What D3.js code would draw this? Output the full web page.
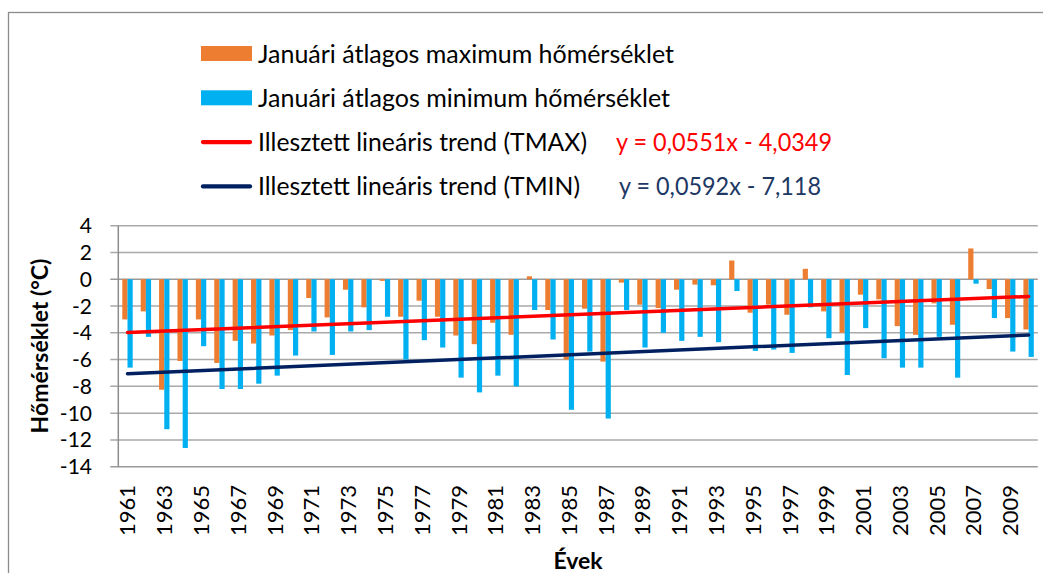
<!DOCTYPE html>
<html>
<head>
<meta charset="utf-8">
<script src="https://cdn.jsdelivr.net/npm/d3@7"></script>
<style>
  body { margin: 0; background: #fff; }
  text { font-family: Lato, "Open Sans", sans-serif; }
</style>
</head>
<body>
<script>
const years = [1961, 1962, 1963, 1964, 1965, 1966, 1967, 1968, 1969, 1970,
    1971, 1972, 1973, 1974, 1975, 1976, 1977, 1978, 1979, 1980,
    1981, 1982, 1983, 1984, 1985, 1986, 1987, 1988, 1989, 1990,
    1991, 1992, 1993, 1994, 1995, 1996, 1997, 1998, 1999, 2000,
    2001, 2002, 2003, 2004, 2005, 2006, 2007, 2008, 2009, 2010];

// January mean maximum / minimum temperature (°C)
const tmax = [-3.0, -2.4, -8.25, -6.1, -3.0, -6.25, -4.6, -4.8, -4.2, -3.8,
    -1.4, -2.85, -0.78, -2.1, -0.12, -2.8, -1.6, -2.8, -4.2, -4.85,
    -3.25, -4.15, 0.22, -2.3, -6.0, -2.2, -6.15, -0.25, -1.9, -2.15,
    -0.78, -0.4, -0.45, 1.4, -2.5, -1.9, -2.65, 0.78, -2.4, -4.0,
    -1.15, -1.5, -3.5, -4.15, -1.8, -3.4, 2.3, -0.73, -2.9, -3.75];
const tmin = [-6.6, -4.3, -11.2, -12.6, -5.0, -8.2, -8.2, -7.8, -7.2, -5.7,
    -3.9, -5.65, -3.9, -3.8, -2.8, -6.0, -4.55, -5.1, -7.35, -8.45,
    -7.2, -8.0, -2.3, -4.5, -9.75, -5.4, -10.4, -2.3, -5.1, -4.0,
    -4.6, -4.3, -4.7, -0.88, -5.35, -5.25, -5.5, -2.1, -4.4, -7.15,
    -3.65, -5.9, -6.6, -6.6, -4.3, -7.35, -0.33, -2.9, -5.4, -5.8];

// trend line end points (first and last year)
const trendMax = [{ year: 1961, v: -3.98 }, { year: 2010, v: -1.28 }];
const trendMin = [{ year: 1961, v: -7.06 }, { year: 2010, v: -4.16 }];

const yTicks = [4, 2, 0, -2, -4, -6, -8, -10, -12, -14];
const xLabels = years.filter((d, i) => i % 2 === 0);

const legendItems = [
    { label: "Januári átlagos maximum hőmérséklet", color: "#ED7D31", type: "box", w: 416 },
    { label: "Januári átlagos minimum hőmérséklet", color: "#00B0F0", type: "box", w: 412 },
    { label: "Illesztett lineáris trend (TMAX)", color: "#FF0000", type: "line", w: 329,
      eq: "y = 0,0551x - 4,0349", eqColor: "#FF0000", eqX: 616, eqW: 216 },
    { label: "Illesztett lineáris trend (TMIN)", color: "#002060", type: "line", w: 322,
      eq: "y = 0,0592x - 7,118", eqColor: "#203864", eqX: 619, eqW: 202 }
];

const W = 1043, H = 573;
const plot = { left: 118.3, right: 1037.8, top: 225.7, bottom: 466.7 };

const svg = d3.select("body").append("svg")
    .attr("width", W)
    .attr("height", H);

// outer chart border
svg.append("rect")
    .attr("x", 8.5).attr("y", 12.5)
    .attr("width", W + 20).attr("height", H + 20)
    .attr("fill", "none")
    .attr("stroke", "#8c8c8c")
    .attr("stroke-width", 1.3);

const x = d3.scaleBand()
    .domain(years)
    .range([plot.left, plot.right])
    .paddingInner(0.435)
    .paddingOuter(0.2175);

const xSub = d3.scaleBand()
    .domain(["max", "min"])
    .range([0, x.bandwidth()]);

const y = d3.scaleLinear()
    .domain([-14, 4])
    .range([plot.bottom, plot.top]);

// gridlines
svg.append("g")
    .selectAll("line")
    .data(yTicks)
    .enter()
    .append("line")
    .attr("x1", plot.left - 8)
    .attr("x2", plot.right)
    .attr("y1", d => y(d))
    .attr("y2", d => y(d))
    .attr("stroke", d => d === 0 || d === -14 ? "#9a9a9a" : "#a9a9a9")
    .attr("stroke-width", 1.5);

// y axis labels
svg.append("g")
    .selectAll("text")
    .data(yTicks)
    .enter()
    .append("text")
    .attr("x", 92)
    .attr("y", d => y(d) + 7.5)
    .attr("text-anchor", "end")
    .attr("font-size", 21)
    .attr("fill", "#000")
    .text(d => d);

// bars
const bars = svg.append("g");
bars.selectAll("rect.max")
    .data(years)
    .enter()
    .append("rect")
    .attr("class", "max")
    .attr("x", d => x(d) + xSub("max"))
    .attr("width", xSub.bandwidth())
    .attr("y", (d, i) => y(Math.max(0, tmax[i])))
    .attr("height", (d, i) => Math.abs(y(tmax[i]) - y(0)))
    .attr("fill", "#ED7D31");

bars.selectAll("rect.min")
    .data(years)
    .enter()
    .append("rect")
    .attr("class", "min")
    .attr("x", d => x(d) + xSub("min"))
    .attr("width", xSub.bandwidth())
    .attr("y", (d, i) => y(Math.max(0, tmin[i])))
    .attr("height", (d, i) => Math.abs(y(tmin[i]) - y(0)))
    .attr("fill", "#00B0F0");

// axis line
svg.append("line")
    .attr("x1", plot.left).attr("x2", plot.left)
    .attr("y1", plot.top).attr("y2", plot.bottom)
    .attr("stroke", "#8c8c8c")
    .attr("stroke-width", 1.5);

// trend lines
const line = d3.line()
    .x(d => x(d.year) + x.bandwidth() / 2)
    .y(d => y(d.v));

svg.append("path")
    .datum(trendMax)
    .attr("d", line)
    .attr("fill", "none")
    .attr("stroke", "#FF0000")
    .attr("stroke-width", 3.5)
    .attr("stroke-linecap", "round");

svg.append("path")
    .datum(trendMin)
    .attr("d", line)
    .attr("fill", "none")
    .attr("stroke", "#002060")
    .attr("stroke-width", 3.5)
    .attr("stroke-linecap", "round");

// x axis labels
svg.append("g")
    .selectAll("text")
    .data(xLabels)
    .enter()
    .append("text")
    .attr("transform", d => `translate(${x(d) + x.bandwidth() / 2 + 8},485) rotate(-90)`)
    .attr("text-anchor", "end")
    .attr("font-size", 22)
    .attr("fill", "#000")
    .text(d => d);

// axis titles
svg.append("text")
    .attr("transform", "translate(48,346) rotate(-90)")
    .attr("text-anchor", "middle")
    .attr("font-size", 23)
    .attr("font-weight", "bold")
    .text("Hőmérséklet (°C)");

svg.append("text")
    .attr("x", 578)
    .attr("y", 569)
    .attr("text-anchor", "middle")
    .attr("font-size", 23)
    .attr("font-weight", "bold")
    .text("Évek");

// legend
const legend = svg.append("g")
    .selectAll("g")
    .data(legendItems)
    .enter()
    .append("g")
    .attr("transform", (d, i) => `translate(0,${62.5 + i * 44.3})`);

legend.filter(d => d.type === "box")
    .append("rect")
    .attr("x", 201).attr("y", -16.5)
    .attr("width", 51).attr("height", 15)
    .attr("fill", d => d.color);

legend.filter(d => d.type === "line")
    .append("line")
    .attr("x1", 203).attr("x2", 250)
    .attr("y1", -9).attr("y2", -9)
    .attr("stroke", d => d.color)
    .attr("stroke-width", 4.3)
    .attr("stroke-linecap", "round");

legend.append("text")
    .attr("x", 258)
    .attr("font-size", 25)
    .attr("fill", "#000")
    .attr("textLength", d => d.w)
    .attr("lengthAdjust", "spacingAndGlyphs")
    .text(d => d.label);

legend.filter(d => d.eq)
    .append("text")
    .attr("x", d => d.eqX)
    .attr("font-size", 25)
    .attr("fill", d => d.eqColor)
    .attr("textLength", d => d.eqW)
    .attr("lengthAdjust", "spacingAndGlyphs")
    .text(d => d.eq);
</script>
</body>
</html>
